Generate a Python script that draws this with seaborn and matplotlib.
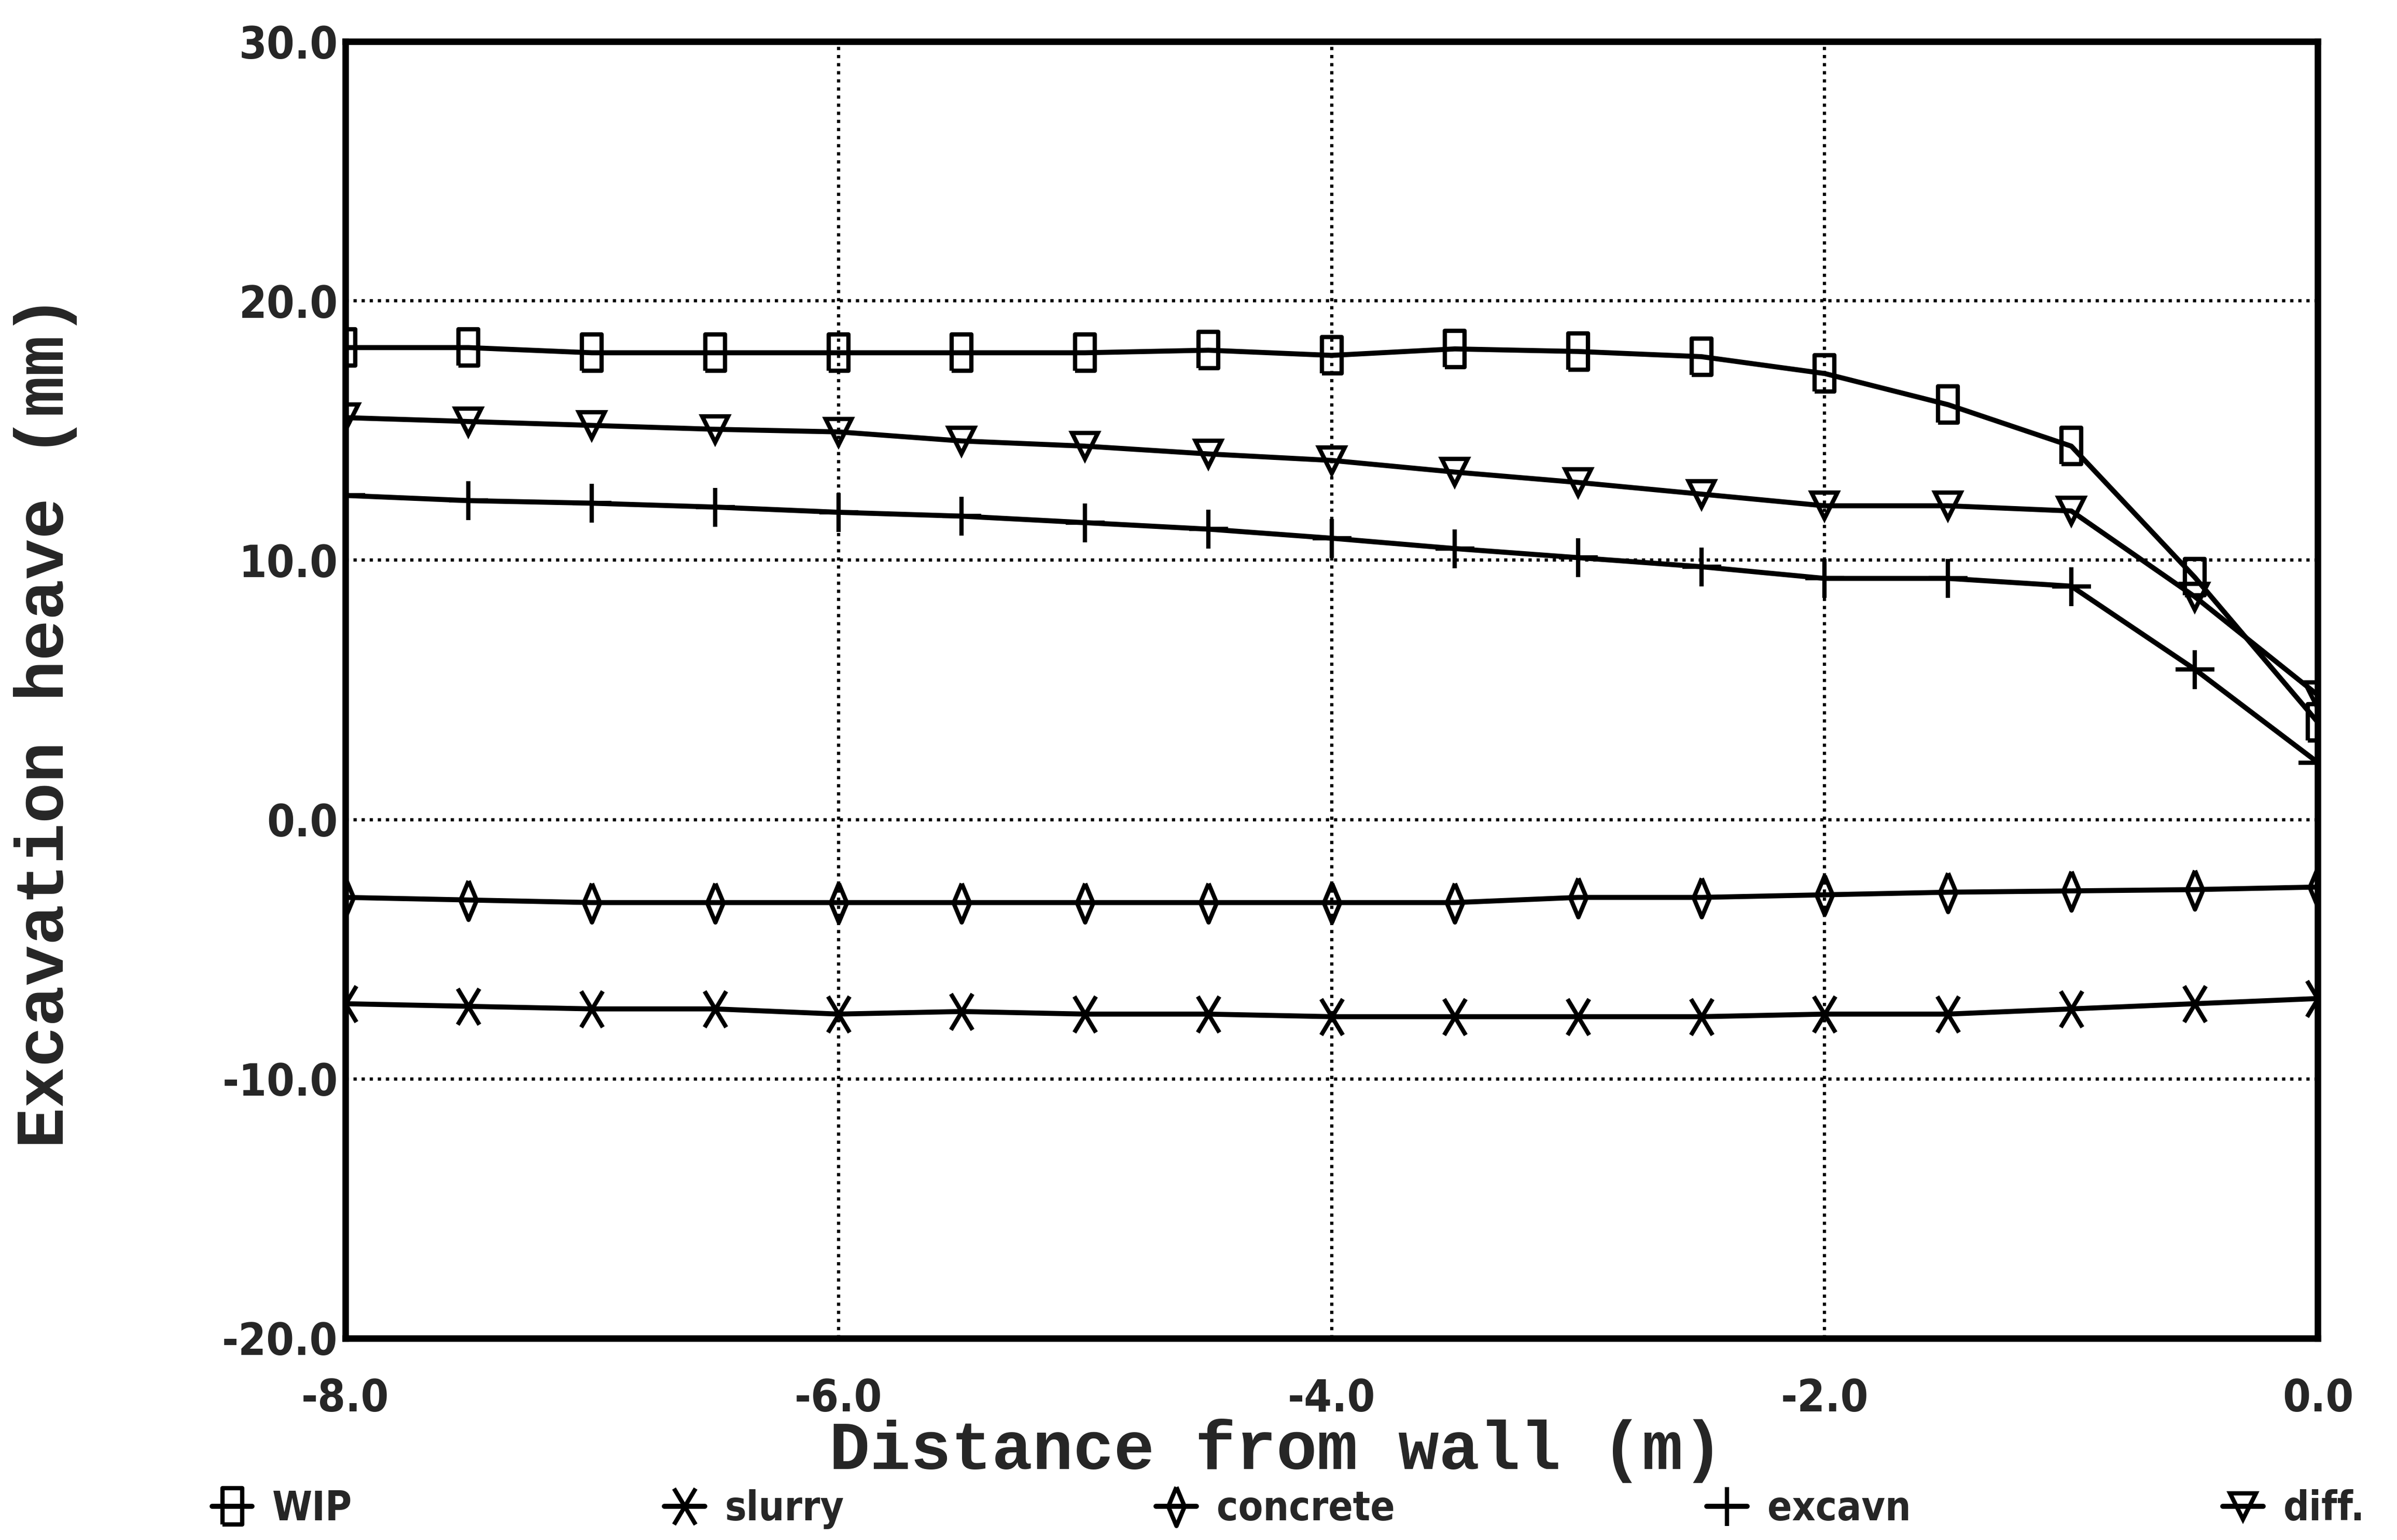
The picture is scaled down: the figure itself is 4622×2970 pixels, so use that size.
import matplotlib
matplotlib.use("Agg")
import matplotlib.pyplot as plt
from matplotlib.path import Path
import seaborn as sns
import pandas as pd

# ---- data ----
distance = [-8.0, -7.5, -7.0, -6.5, -6.0, -5.5, -5.0, -4.5, -4.0,
            -3.5, -3.0, -2.5, -2.0, -1.5, -1.0, -0.5, 0.0]
wip = [18.2, 18.2, 18.0, 18.0, 18.0, 18.0, 18.0, 18.1, 17.9,
       18.15, 18.05, 17.85, 17.2, 16.0, 14.4, 9.35, 3.75]
slurry = [-7.1, -7.2, -7.3, -7.3, -7.5, -7.4, -7.5, -7.5, -7.6,
          -7.6, -7.6, -7.6, -7.5, -7.5, -7.3, -7.1, -6.9]
concrete = [-3.0, -3.1, -3.2, -3.2, -3.2, -3.2, -3.2, -3.2, -3.2,
            -3.2, -3.0, -3.0, -2.9, -2.8, -2.75, -2.7, -2.6]
excavn = [12.5, 12.3, 12.2, 12.05, 11.85, 11.7, 11.45, 11.2, 10.85,
          10.45, 10.1, 9.75, 9.3, 9.3, 9.0, 5.8, 2.2]
diff = [15.5, 15.35, 15.2, 15.05, 14.95, 14.6, 14.4, 14.1, 13.85,
        13.4, 13.0, 12.55, 12.1, 12.1, 11.9, 8.6, 4.8]
series_names = ["WIP", "slurry", "concrete", "excavn", "diff."]
x_ticks = [-8.0, -6.0, -4.0, -2.0, 0.0]
y_ticks = [-20.0, -10.0, 0.0, 10.0, 20.0, 30.0]

# ---- markers ----
rect = Path([(-0.55, -1), (0.55, -1), (0.55, 1), (-0.55, 1), (-0.55, -1)])
tallx = Path([(-0.6, -1), (0.6, 1), (0.6, -1), (-0.6, 1)],
             [Path.MOVETO, Path.LINETO, Path.MOVETO, Path.LINETO])
diam = Path([(0, 1), (0.42, 0), (0, -1), (-0.42, 0), (0, 1)])
markers = [rect, tallx, diam, "+", "v"]
msizes = [50, 50, 54, 54, 36]

sns.set_theme(style="white")
plt.rcParams["font.family"] = ["DejaVu Sans"]

fig = plt.figure(figsize=(46.22, 29.70), dpi=100)
ax = fig.add_axes([0.144, 0.131, 0.823, 0.842])

values = [wip, slurry, concrete, excavn, diff]
for name, vals, mk, ms in zip(series_names, values, markers, msizes):
    df = pd.DataFrame({"x": distance, "y": vals})
    sns.lineplot(data=df, x="x", y="y", ax=ax, color="black", linewidth=7,
                 marker=mk, markersize=ms, markerfacecolor="none",
                 markeredgecolor="black", markeredgewidth=6, label=name,
                 legend=False)

ax.set_xlim(-8, 0)
ax.set_ylim(-20, 30)
ax.set_xticks(x_ticks)
ax.set_yticks(y_ticks)
ax.set_xticklabels([f"{v:.1f}" for v in x_ticks])
ax.set_yticklabels([f"{v:.1f}" for v in y_ticks])
narrow = ["Liberation Sans Narrow", "DejaVu Sans"]
for lab in ax.get_xticklabels() + ax.get_yticklabels():
    lab.set_fontfamily(narrow)
    lab.set_fontstretch("condensed")
    lab.set_fontweight("bold")
    lab.set_fontsize(62)
ax.tick_params(axis="y", length=0, pad=10)
ax.tick_params(axis="x", length=0, pad=55)

for v in [-10, 0, 10, 20]:
    ax.axhline(v, color="black", linestyle=(0, (1, 1.5)), linewidth=4.5, zorder=0)
for v in [-6, -4, -2]:
    ax.axvline(v, color="black", linestyle=(0, (1, 1.5)), linewidth=4.5, zorder=0)
ax.grid(False)

for sp in ax.spines.values():
    sp.set_visible(True)
    sp.set_color("black")
    sp.set_linewidth(9)

label_font = dict(family=["Liberation Mono", "DejaVu Sans Mono"],
                  weight="bold", size=94)
ax.set_xlabel("Distance from wall (m)", fontdict=label_font)
ax.set_ylabel("Excavation heave (mm)", fontdict=label_font)
ax.xaxis.set_label_coords(0.472, -0.087)
ax.xaxis.label.set_va("center")
ax.yaxis.set_label_coords(-0.152, 0.476)
ax.yaxis.label.set_va("center")
ax.yaxis.label.set_ha("center")

handles, labels = ax.get_legend_handles_labels()
leg = fig.legend(handles, labels, loc="lower left", ncol=5, mode="expand",
                 bbox_to_anchor=(0.08, -0.006, 0.915, 0.05), frameon=False,
                 handlelength=1.0, handletextpad=0.5, borderaxespad=0.1,
                 prop=dict(family=narrow, stretch="condensed",
                           weight="bold", size=56))

fig.savefig("out.png", dpi=100, facecolor="white")
